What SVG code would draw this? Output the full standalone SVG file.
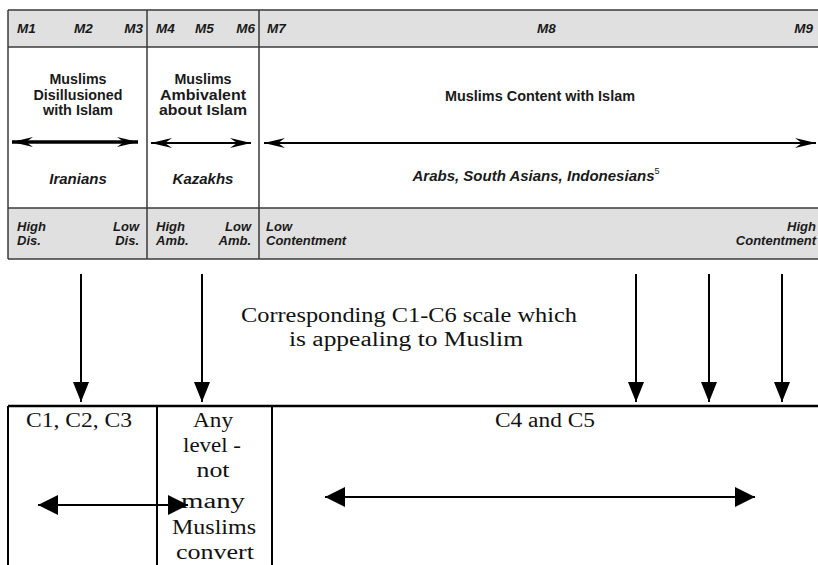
<svg xmlns="http://www.w3.org/2000/svg" width="818" height="565" viewBox="0 0 818 565">
<style>
.hd{font-family:"Liberation Sans",Arial,sans-serif;font-weight:bold;font-style:italic;font-size:13.5px;fill:#1a1a1a}
.mt{font-family:"Liberation Sans",Arial,sans-serif;font-weight:bold;font-size:15px;fill:#1a1a1a;text-anchor:middle}
.it{font-family:"Liberation Sans",Arial,sans-serif;font-weight:bold;font-style:italic;font-size:15px;fill:#1a1a1a;text-anchor:middle}
.sm{font-family:"Liberation Sans",Arial,sans-serif;font-weight:bold;font-style:italic;font-size:13px;fill:#1a1a1a}
.r{text-anchor:end}
.sf{font-family:"Liberation Serif","Times New Roman",serif;font-size:20px;fill:#111;text-anchor:middle}
.band{fill:#e0e0e0}
.pl{stroke:#3a3a3a;stroke-width:1.5;fill:none}
.conn{stroke:#000;fill:none}
</style>
<defs>
<marker id="st" markerUnits="userSpaceOnUse" markerWidth="22" markerHeight="12" viewBox="-22 -6 22 12" refX="0" refY="0" orient="auto-start-reverse">
<path d="M0,0 L-21,-5 L-14,0 L-21,5 Z" fill="#000"/>
</marker>
<marker id="tv" markerUnits="userSpaceOnUse" markerWidth="22" markerHeight="18" viewBox="-21 -9 22 18" refX="0" refY="0" orient="auto-start-reverse">
<path d="M0,0 L-20,-8 L-20,8 Z" fill="#000"/>
</marker>
<marker id="th" markerUnits="userSpaceOnUse" markerWidth="22" markerHeight="22" viewBox="-21 -11 22 22" refX="0" refY="0" orient="auto-start-reverse">
<path d="M0,0 L-20,-10 L-20,10 Z" fill="#000"/>
</marker>
</defs>

<g id="top-panel">
<rect class="band" x="8" y="10" width="820" height="37"/>
<rect class="band" x="8" y="208" width="820" height="51"/>
<line class="pl" x1="8" y1="10" x2="818" y2="10"/>
<line class="pl" x1="8" y1="47" x2="818" y2="47"/>
<line class="pl" x1="8" y1="208" x2="818" y2="208"/>
<line class="pl" x1="8" y1="259" x2="818" y2="259"/>
<line class="pl" x1="8" y1="10" x2="8" y2="259"/>
<line class="pl" x1="147" y1="10" x2="147" y2="259"/>
<line class="pl" x1="259" y1="10" x2="259" y2="259"/>
</g>

<g id="header">
<text class="hd" x="17" y="33">M1</text>
<text class="hd" x="74" y="33">M2</text>
<text class="hd r" x="143" y="33">M3</text>
<text class="hd" x="156" y="33">M4</text>
<text class="hd" x="195" y="33">M5</text>
<text class="hd r" x="255" y="33">M6</text>
<text class="hd" x="267" y="33">M7</text>
<text class="hd" x="537" y="33">M8</text>
<text class="hd r" x="813" y="33">M9</text>
</g>

<g id="col-disillusioned">
<text class="mt" x="78" y="84" textLength="57" lengthAdjust="spacingAndGlyphs">Muslims</text>
<text class="mt" x="78" y="99.5" textLength="89" lengthAdjust="spacingAndGlyphs">Disillusioned</text>
<text class="mt" x="78" y="115" textLength="70" lengthAdjust="spacingAndGlyphs">with Islam</text>
<text class="it" x="78" y="184">Iranians</text>
<text class="sm" x="17" y="231">High</text>
<text class="sm" x="17" y="245">Dis.</text>
<text class="sm r" x="139" y="231">Low</text>
<text class="sm r" x="139" y="245">Dis.</text>
</g>

<g id="col-ambivalent">
<text class="mt" x="203" y="84" textLength="57" lengthAdjust="spacingAndGlyphs">Muslims</text>
<text class="mt" x="203" y="99.5" textLength="86" lengthAdjust="spacingAndGlyphs">Ambivalent</text>
<text class="mt" x="203" y="115" textLength="88" lengthAdjust="spacingAndGlyphs">about Islam</text>
<text class="it" x="203" y="184">Kazakhs</text>
<text class="sm" x="156" y="231">High</text>
<text class="sm" x="156" y="245">Amb.</text>
<text class="sm r" x="251" y="231">Low</text>
<text class="sm r" x="251" y="245">Amb.</text>
</g>

<g id="col-content">
<text class="mt" x="540" y="101" textLength="190" lengthAdjust="spacingAndGlyphs">Muslims Content with Islam</text>
<text class="it" x="536" y="181" font-size="14">Arabs, South Asians, Indonesians<tspan font-size="9" font-style="normal" font-weight="normal" dy="-7">5</tspan></text>
<text class="sm" x="266" y="231">Low</text>
<text class="sm" x="266" y="245">Contentment</text>
<text class="sm r" x="816" y="231">High</text>
<text class="sm r" x="816" y="245">Contentment</text>
</g>

<g id="caption">
<text class="sf" x="409" y="322" textLength="336" lengthAdjust="spacingAndGlyphs">Corresponding C1-C6 scale which</text>
<text class="sf" x="406" y="346" textLength="234" lengthAdjust="spacingAndGlyphs">is appealing to Muslim</text>
</g>

<g id="bottom-panel">
<line x1="8" y1="406" x2="818" y2="406" stroke="#000" stroke-width="2.5"/>
<line x1="8" y1="406" x2="8" y2="565" stroke="#000" stroke-width="2"/>
<line x1="157" y1="406" x2="157" y2="565" stroke="#000" stroke-width="2"/>
<line x1="272" y1="406" x2="272" y2="565" stroke="#000" stroke-width="2"/>
</g>

<g id="c123">
<text class="sf" x="79" y="427" textLength="106" lengthAdjust="spacingAndGlyphs">C1, C2, C3</text>
</g>
<g id="any-level">
<text class="sf" x="213" y="427" textLength="40" lengthAdjust="spacingAndGlyphs">Any</text>
<text class="sf" x="212" y="452" textLength="58" lengthAdjust="spacingAndGlyphs">level -</text>
<text class="sf" x="213" y="477" textLength="33" lengthAdjust="spacingAndGlyphs">not</text>
<text class="sf" x="213" y="508" textLength="64" lengthAdjust="spacingAndGlyphs">many</text>
<text class="sf" x="214" y="534" textLength="84" lengthAdjust="spacingAndGlyphs">Muslims</text>
<text class="sf" x="215" y="559" textLength="78" lengthAdjust="spacingAndGlyphs">convert</text>
</g>
<g id="c45">
<text class="sf" x="545" y="427" textLength="100" lengthAdjust="spacingAndGlyphs">C4 and C5</text>
</g>

<g id="connectors">
<line class="conn" x1="12" y1="142" x2="138" y2="142" stroke-width="3.5" marker-start="url(#st)" marker-end="url(#st)"/>
<line class="conn" x1="151" y1="143" x2="251" y2="143" stroke-width="2" marker-start="url(#st)" marker-end="url(#st)"/>
<line class="conn" x1="264" y1="143" x2="816" y2="143" stroke-width="2" marker-start="url(#st)" marker-end="url(#st)"/>
<line class="conn" x1="81" y1="274" x2="81" y2="402" stroke-width="2" marker-end="url(#tv)"/>
<line class="conn" x1="202" y1="274" x2="202" y2="402" stroke-width="2" marker-end="url(#tv)"/>
<line class="conn" x1="636" y1="274" x2="636" y2="402" stroke-width="2" marker-end="url(#tv)"/>
<line class="conn" x1="709" y1="274" x2="709" y2="402" stroke-width="2" marker-end="url(#tv)"/>
<line class="conn" x1="782" y1="274" x2="782" y2="402" stroke-width="2" marker-end="url(#tv)"/>
<line class="conn" x1="38" y1="505" x2="188" y2="505" stroke-width="2" marker-start="url(#th)" marker-end="url(#th)"/>
<line class="conn" x1="325" y1="497" x2="755" y2="497" stroke-width="2" marker-start="url(#th)" marker-end="url(#th)"/>
</g>
</svg>
